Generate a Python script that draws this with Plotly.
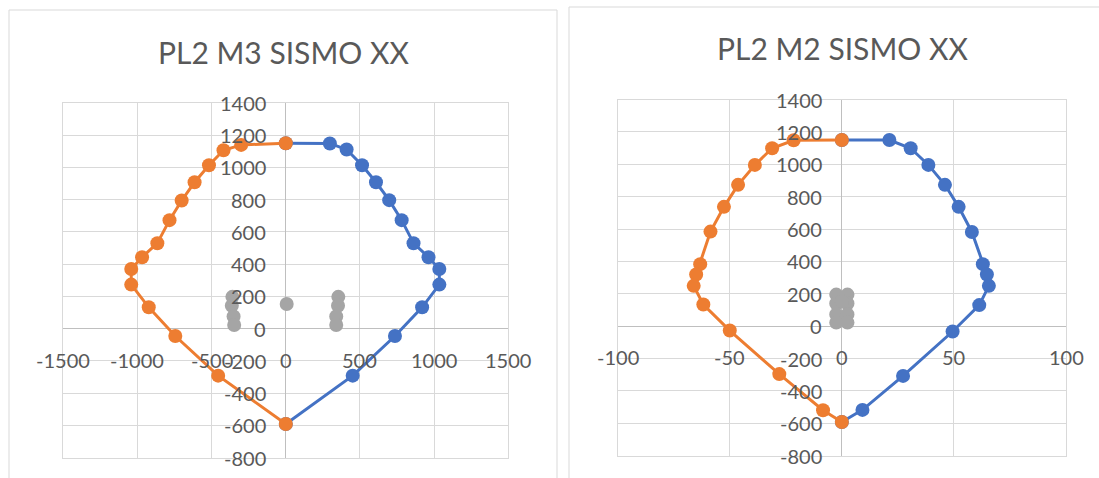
import plotly.graph_objects as go

# ---- PL2 M3 SISMO XX : interaction diagram (M3 vs P) ----
m3_pos_m = [0, 297, 410, 514, 608, 697, 781, 861, 962, 1035, 1035, 919, 736, 451, 0]
m3_pos_p = [1150, 1149, 1111, 1014, 908, 797, 673, 530, 443, 370, 273, 132, -46, -292, -592]
m3_neg_m = [0, -301, -420, -518, -615, -702, -784, -866, -969, -1042, -1042, -924, -745, -456, 0]
m3_neg_p = [1150, 1140, 1107, 1014, 908, 795, 673, 530, 443, 370, 273, 132, -46, -292, -592]
m3_dem_m = [-360, -364, -352, -348, 6, 354, 352, 340, 340]
m3_dem_p = [197, 142, 75, 22, 153, 197, 142, 75, 22]

# ---- PL2 M2 SISMO XX : interaction diagram (M2 vs P) ----
m2_pos_m = [0, 21.2, 30.7, 38.6, 46.0, 52.1, 58.0, 62.9, 64.7, 65.6, 61.3, 49.4, 27.3, 9.2, 0]
m2_pos_p = [1150, 1150, 1099, 996, 873, 737, 582, 383, 319, 249, 130, -33, -307, -517, -592]
m2_neg_m = [0, -21.5, -31.1, -38.8, -46.3, -52.6, -58.6, -63.2, -65.0, -66.1, -61.8, -50.0, -27.9, -8.4, 0]
m2_neg_p = [1150, 1148, 1099, 996, 873, 737, 584, 383, 319, 249, 134, -27, -296, -519, -592]
m2_dem_m = [-2.5, 2.5, -2.5, 2.5, -2.5, 2.5, -2.5, 2.5, 0]
m2_dem_p = [195, 195, 140, 140, 72, 72, 22, 22, 153]

# tick labels
m3_xticks = [-1500, -1000, -500, 0, 500, 1000, 1500]
m2_xticks = [-100, -50, 0, 50, 100]
p_ticks = [-800, -600, -400, -200, 0, 200, 400, 600, 800, 1000, 1200, 1400]

titles = ["PL2 M3 SISMO XX", "PL2 M2 SISMO XX"]

BLUE = "#4472C4"
ORANGE = "#ED7D31"
GRAY = "#A5A5A5"
GRID = "#D9D9D9"
TEXT = "#595959"
FONT = "Lato"

W, H = 1099, 478

fig = go.Figure()

def add_series(xs, ys, color, xa, ya, line=True):
    fig.add_trace(go.Scatter(
        x=xs, y=ys, xaxis=xa, yaxis=ya,
        mode="lines+markers" if line else "markers",
        line=dict(color=color, width=3),
        marker=dict(color=color, size=14),
        showlegend=False, hoverinfo="skip", cliponaxis=False,
    ))

add_series(m3_pos_m, m3_pos_p, BLUE, "x", "y")
add_series(m3_neg_m, m3_neg_p, ORANGE, "x", "y")
add_series(m3_dem_m, m3_dem_p, GRAY, "x", "y", line=False)

add_series(m2_pos_m, m2_pos_p, BLUE, "x2", "y2")
add_series(m2_neg_m, m2_neg_p, ORANGE, "x2", "y2")
add_series(m2_dem_m, m2_dem_p, GRAY, "x2", "y2", line=False)

def px_x(v):
    return v / W

def px_y(v):
    return 1 - v / H

axis_common = dict(
    showgrid=True, gridcolor=GRID, gridwidth=1,
    zeroline=True, zerolinecolor="#BFBFBF", zerolinewidth=1,
    showline=True, linecolor=GRID, linewidth=1, mirror=True,
    showticklabels=False, ticks="", fixedrange=True,
)

fig.update_layout(
    width=W, height=H,
    margin=dict(l=0, r=0, t=0, b=0),
    paper_bgcolor="white", plot_bgcolor="white",
    xaxis=dict(domain=[px_x(63.3), px_x(508.3)], range=[-1500, 1500],
               tickvals=m3_xticks, anchor="y", **axis_common),
    yaxis=dict(domain=[px_y(457.5), px_y(103)], range=[-800, 1400],
               tickvals=p_ticks, anchor="x", **axis_common),
    xaxis2=dict(domain=[px_x(617.7), px_x(1066)], range=[-100, 100],
                tickvals=m2_xticks, anchor="y2", **axis_common),
    yaxis2=dict(domain=[px_y(455.7), px_y(99.5)], range=[-800, 1400],
                tickvals=p_ticks, anchor="x2", **axis_common),
)

annotations = []
for xref, yref, xt in (("x", "y", m3_xticks), ("x2", "y2", m2_xticks)):
    for v in xt:
        annotations.append(dict(
            x=v, y=0, xref=xref, yref=yref, text=str(v), showarrow=False,
            xanchor="center", yanchor="middle", yshift=-31,
            font=dict(family=FONT, size=20, color=TEXT)))
    for v in p_ticks:
        annotations.append(dict(
            x=0, y=v, xref=xref, yref=yref, text=str(v), showarrow=False,
            xanchor="right", yanchor="middle", xshift=-18,
            font=dict(family=FONT, size=20, color=TEXT)))

annotations.append(dict(x=px_x(283.5), y=px_y(52), xref="paper", yref="paper",
                        text=titles[0], showarrow=False, xanchor="center",
                        yanchor="middle", font=dict(family=FONT, size=30, color=TEXT)))
annotations.append(dict(x=px_x(842), y=px_y(48), xref="paper", yref="paper",
                        text=titles[1], showarrow=False, xanchor="center",
                        yanchor="middle", font=dict(family=FONT, size=30, color=TEXT)))
fig.update_layout(annotations=annotations)

# chart-area frames
fig.add_shape(type="rect", xref="paper", yref="paper",
              x0=px_x(9), x1=px_x(557), y0=px_y(490), y1=px_y(10),
              line=dict(color=GRID, width=1), layer="below")
fig.add_shape(type="rect", xref="paper", yref="paper",
              x0=px_x(569), x1=px_x(1110), y0=px_y(490), y1=px_y(7),
              line=dict(color=GRID, width=1), layer="below")

fig.write_html("out.html", config={"displayModeBar": False})
